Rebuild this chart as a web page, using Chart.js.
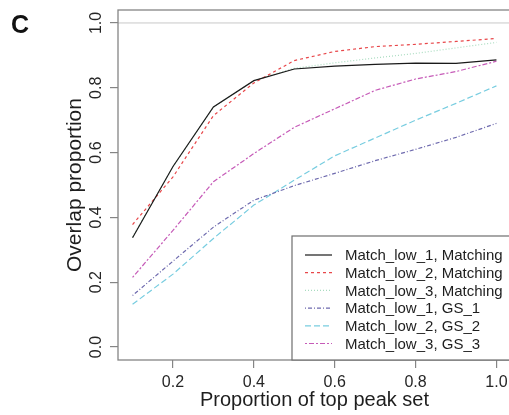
<!DOCTYPE html>
<html>
<head>
<meta charset="utf-8">
<script src="https://cdn.jsdelivr.net/npm/chart.js@4/dist/chart.umd.min.js"></script>
<style>
html,body{margin:0;padding:0;overflow:hidden;background:#fff;width:509px;height:415px;}
#wrap{position:relative;width:511px;height:415px;}
#lbl{position:absolute;left:11px;top:10px;font:bold 25px "Liberation Sans",Arial,sans-serif;color:#111;}
</style>
</head>
<body>
<div id="wrap">
<canvas id="c" width="511" height="415"></canvas>
<div id="lbl">C</div>
</div>
<script>
const xValues = [0.1, 0.2, 0.3, 0.4, 0.5, 0.6, 0.7, 0.8, 0.9, 1.0];
const seriesNames = [
  "Match_low_1, Matching",
  "Match_low_2, Matching",
  "Match_low_3, Matching",
  "Match_low_1, GS_1",
  "Match_low_2, GS_2",
  "Match_low_3, GS_3"
];
const low1Matching = [0.337, 0.557, 0.741, 0.822, 0.858, 0.867, 0.872, 0.876, 0.875, 0.886];
const low2Matching = [0.378, 0.525, 0.714, 0.815, 0.884, 0.912, 0.927, 0.934, 0.943, 0.952];
const low3Matching = [0.34, 0.556, 0.74, 0.822, 0.86, 0.877, 0.892, 0.906, 0.923, 0.940];
const low1GS1 = [0.159, 0.265, 0.37, 0.453, 0.498, 0.536, 0.575, 0.61, 0.647, 0.69];
const low2GS2 = [0.132, 0.225, 0.335, 0.438, 0.515, 0.59, 0.645, 0.70, 0.752, 0.806];
const low3GS3 = [0.215, 0.36, 0.51, 0.597, 0.678, 0.735, 0.792, 0.827, 0.85, 0.882];
const yTicks = [0.0, 0.2, 0.4, 0.6, 0.8, 1.0];
const xTicks = [0.2, 0.4, 0.6, 0.8, 1.0];
const refLineValue = 1.0;

const allSeries = [low1Matching, low2Matching, low3Matching, low1GS1, low2GS2, low3GS3];
const colors = ["#1a1a1a", "#e8474a", "#a9dcc0", "#6e6aae", "#78cde0", "#c65bb8"];
const dashes = [[], [3, 3], [1, 2], [1, 2, 4, 2], [6, 3], [2, 2, 5, 2]];

const FONT = '"Liberation Sans", Arial, sans-serif';

const datasets = allSeries.map((vals, i) => ({
  label: seriesNames[i],
  data: xValues.map((x, j) => ({x: x, y: vals[j]})),
  borderColor: colors[i],
  borderWidth: 1.2,
  borderDash: dashes[i],
  pointRadius: 0,
  fill: false,
  tension: 0
}));

const decor = {
  id: 'decor',
  beforeDatasetsDraw(chart) {
    const {ctx, chartArea: a, scales: {y}} = chart;
    const py = y.getPixelForValue(refLineValue);
    ctx.save();
    ctx.strokeStyle = '#c8c8c8';
    ctx.lineWidth = 1;
    ctx.beginPath();
    ctx.moveTo(a.left, py); ctx.lineTo(a.right, py);
    ctx.stroke();
    ctx.restore();
  },
  afterDraw(chart) {
    const {ctx, chartArea: a, scales: {y}} = chart;
    ctx.save();
    // plot box
    ctx.strokeStyle = '#858585';
    ctx.lineWidth = 1.3;
    ctx.strokeRect(a.left, a.top, a.right - a.left, a.bottom - a.top);
    // y tick labels (rotated, R style)
    ctx.fillStyle = '#262626';
    ctx.font = '16px ' + FONT;
    ctx.textAlign = 'center';
    ctx.textBaseline = 'alphabetic';
    y.ticks.forEach(t => {
      const p = y.getPixelForValue(t.value);
      ctx.save();
      ctx.translate(a.left - 17, p);
      ctx.rotate(-Math.PI / 2);
      ctx.fillText(t.value.toFixed(1), 0, 0);
      ctx.restore();
    });
    // legend
    const lx = a.left + 174, ly = a.bottom - 124;
    ctx.fillStyle = '#fff';
    ctx.fillRect(lx, ly, a.right - lx + 5, a.bottom - ly);
    ctx.strokeStyle = '#6e6e6e';
    ctx.lineWidth = 1.2;
    ctx.strokeRect(lx, ly, a.right - lx + 5, a.bottom - ly);
    ctx.font = '15px ' + FONT;
    ctx.textAlign = 'left';
    ctx.textBaseline = 'middle';
    seriesNames.forEach((name, i) => {
      const ry = ly + 19 + i * 17.7;
      ctx.strokeStyle = colors[i];
      ctx.lineWidth = 1.2;
      ctx.setLineDash(dashes[i]);
      ctx.beginPath();
      ctx.moveTo(lx + 13, ry); ctx.lineTo(lx + 40, ry);
      ctx.stroke();
      ctx.setLineDash([]);
      ctx.fillStyle = '#1e1e1e';
      ctx.fillText(name, lx + 53, ry + 1);
    });
    ctx.restore();
  }
};

new Chart(document.getElementById('c'), {
  type: 'line',
  data: {datasets},
  plugins: [decor],
  options: {
    responsive: false,
    animation: false,
    events: [],
    layout: {padding: {left: 0, top: 10, right: 0, bottom: 0}},
    plugins: {legend: {display: false}, tooltip: {enabled: false}},
    scales: {
      x: {
        type: 'linear',
        min: 0.064, max: 1.036,
        afterBuildTicks: s => { s.ticks = xTicks.map(v => ({value: v})); },
        afterFit: s => { s.height = 55; s.paddingLeft = 0; s.paddingRight = 0; },
        border: {display: false},
        grid: {drawOnChartArea: false, drawTicks: true, tickLength: 8, color: '#858585', lineWidth: 1.2},
        ticks: {
          padding: 5,
          color: '#262626',
          font: {family: FONT, size: 16},
          maxRotation: 0,
          callback: v => v.toFixed(1)
        },
        title: {
          display: true,
          text: 'Proportion of top peak set',
          color: '#1e1e1e',
          font: {family: FONT, size: 20},
          padding: {top: 0, bottom: 3}
        }
      },
      y: {
        type: 'linear',
        min: -0.04, max: 1.04,
        afterBuildTicks: s => { s.ticks = yTicks.map(v => ({value: v})); },
        afterFit: s => { s.width = 118; s.paddingTop = 0; s.paddingBottom = 0; },
        border: {display: false},
        grid: {drawOnChartArea: false, drawTicks: true, tickLength: 8, color: '#858585', lineWidth: 1.2},
        ticks: {display: false},
        title: {
          display: true,
          text: 'Overlap proportion',
          color: '#1e1e1e',
          font: {family: FONT, size: 21},
          padding: {top: 63, bottom: 0}
        }
      }
    }
  }
});
</script>
</body>
</html>
